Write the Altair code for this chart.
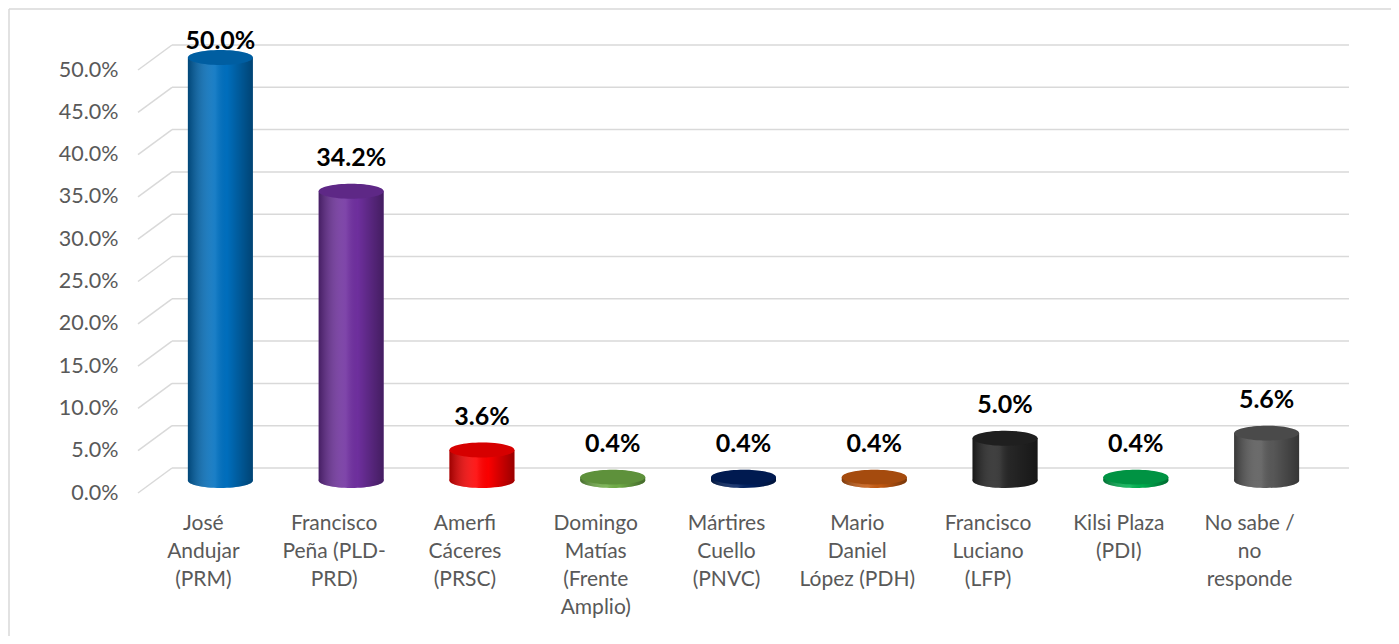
import altair as alt
import pandas as pd

# ---- data ----
categories = ["José|Andujar|(PRM)", "Francisco|Peña (PLD-|PRD)", "Amerfi|Cáceres|(PRSC)",
              "Domingo|Matías|(Frente|Amplio)", "Mártires|Cuello|(PNVC)",
              "Mario|Daniel|López (PDH)", "Francisco|Luciano|(LFP)", "Kilsi Plaza|(PDI)",
              "No sabe /|no|responde"]
values = [50.0, 34.2, 3.6, 0.4, 0.4, 0.4, 5.0, 0.4, 5.6]
colors = ["#0070C0", "#7030A0", "#FF0000", "#70AD47", "#002060", "#C55A11",
          "#262626", "#00B050", "#595959"]
tick_values = [0, 5, 10, 15, 20, 25, 30, 35, 40, 45, 50]

df = pd.DataFrame({"cat": categories, "value": values})
grid_df = pd.DataFrame({"tick": tick_values})

W, H = 1177, 423
DX, DY = 34, -25          # depth of the 3D wall
CX, CY = DX / 2, DY / 2   # cylinder centre depth
BAR_W = 65
FONT = "Lato"
GRID = "#D9D9D9"

ellipse = ("M-1,0 C-1,-0.127 -0.552,-0.23 0,-0.23 C0.552,-0.23 1,-0.127 1,0 "
           "C1,0.127 0.552,0.23 0,0.23 C-0.552,0.23 -1,0.127 -1,0 Z")

yscale = alt.Scale(domain=[0, 50], nice=False, zero=True)
xscale = alt.Scale(domain=categories, paddingInner=0, paddingOuter=0)
cscale = alt.Scale(domain=categories, range=colors)

x_axis = alt.Axis(title=None, labelAngle=0, ticks=False, domain=False, grid=False,
                  labelExpr="split(datum.label, '|')", labelColor="#595959",
                  labelFont=FONT, labelFontSize=21, labelLineHeight=28,
                  labelPadding=19, labelLimit=220)
y_axis = alt.Axis(title=None, values=tick_values, grid=False, ticks=False, domain=False,
                  labelExpr="format(datum.value, '.1f') + '%'", labelColor="#595959",
                  labelFont=FONT, labelFontSize=21.5, labelPadding=20)

x_enc = alt.X("cat:N", scale=xscale, sort=categories, axis=x_axis)
color_enc = alt.Color("cat:N", scale=cscale, legend=None)
y_val = alt.Y("value:Q", scale=yscale, axis=y_axis)

shade = alt.Gradient(
    gradient="linear", x1=0, x2=1, y1=0, y2=0,
    stops=[alt.GradientStop(offset=0, color="rgba(0,0,0,0.38)"),
           alt.GradientStop(offset=0.42, color="rgba(255,255,255,0.10)"),
           alt.GradientStop(offset=0.6, color="rgba(0,0,0,0.02)"),
           alt.GradientStop(offset=1, color="rgba(0,0,0,0.40)")])

# back wall gridlines
back_grid = alt.Chart(grid_df).mark_rule(color=GRID, strokeWidth=1.5, yOffset=DY).encode(
    y=alt.Y("tick:Q", scale=yscale, axis=y_axis),
    x=alt.value(DX), x2=alt.value(W + DX))

# side wall diagonals
diag = alt.Chart(grid_df).mark_rule(color=GRID, strokeWidth=1.5, y2Offset=DY).encode(
    y=alt.Y("tick:Q", scale=yscale, axis=y_axis), y2=alt.Y2("tick:Q"),
    x=alt.value(0), x2=alt.value(DX))

base = alt.Chart(df)

bottom_ell = base.mark_point(shape=ellipse, size=BAR_W * BAR_W, filled=True, opacity=1,
                             strokeWidth=0, xOffset=CX, yOffset=CY).encode(
    x=x_enc, y=alt.datum(0, scale=yscale, axis=y_axis), color=color_enc)
bottom_shade = base.mark_point(shape=ellipse, size=BAR_W * BAR_W, filled=True, opacity=1,
                               strokeWidth=0, xOffset=CX, yOffset=CY, fill=shade).encode(
    x=x_enc, y=alt.datum(0, scale=yscale, axis=y_axis))

body = base.mark_bar(width=BAR_W, xOffset=CX, yOffset=CY, y2Offset=CY).encode(
    x=x_enc, y=y_val, y2=alt.datum(0), color=color_enc)
body_shade = base.mark_bar(width=BAR_W, xOffset=CX, yOffset=CY, y2Offset=CY, fill=shade).encode(
    x=x_enc, y=y_val, y2=alt.datum(0))

top_ell = base.mark_point(shape=ellipse, size=BAR_W * BAR_W, filled=True, opacity=1,
                          strokeWidth=0, xOffset=CX, yOffset=CY).encode(
    x=x_enc, y=y_val, color=color_enc)
top_shade = base.mark_point(shape=ellipse, size=BAR_W * BAR_W, filled=True, opacity=0.16,
                            strokeWidth=0, xOffset=CX, yOffset=CY, fill="black").encode(
    x=x_enc, y=y_val)

labels = base.transform_calculate(
    lab="format(datum.value, '.1f') + '%'",
    label_pos="min(datum.value, 48.1)"
).mark_text(font=FONT, fontSize=25, fontWeight="bold", color="black",
            xOffset=CX, yOffset=CY - 33, baseline="middle").encode(
    x=x_enc, y=alt.Y("label_pos:Q", scale=yscale, axis=y_axis), text="lab:N")

# outer frame (top and left edges)
frame_top = alt.Chart(grid_df.head(1)).mark_rule(color=GRID, strokeWidth=1.5).encode(
    x=alt.value(-129), x2=alt.value(W + 80), y=alt.value(-61))
frame_left = alt.Chart(grid_df.head(1)).mark_rule(color=GRID, strokeWidth=1.5).encode(
    x=alt.value(-129), y=alt.value(-61), y2=alt.value(H + 150))

chart = alt.layer(
    frame_top, frame_left, back_grid, diag, bottom_ell, bottom_shade, body, body_shade,
    top_ell, top_shade, labels
).properties(
    width=W, height=H,
    padding={"left": 130, "top": 62, "right": 76, "bottom": 143},
    autosize=alt.AutoSizeParams(type="none"),
    background="white"
).configure_view(stroke=None)

chart.save("out.html", embed_options={"renderer": "svg", "actions": False})
